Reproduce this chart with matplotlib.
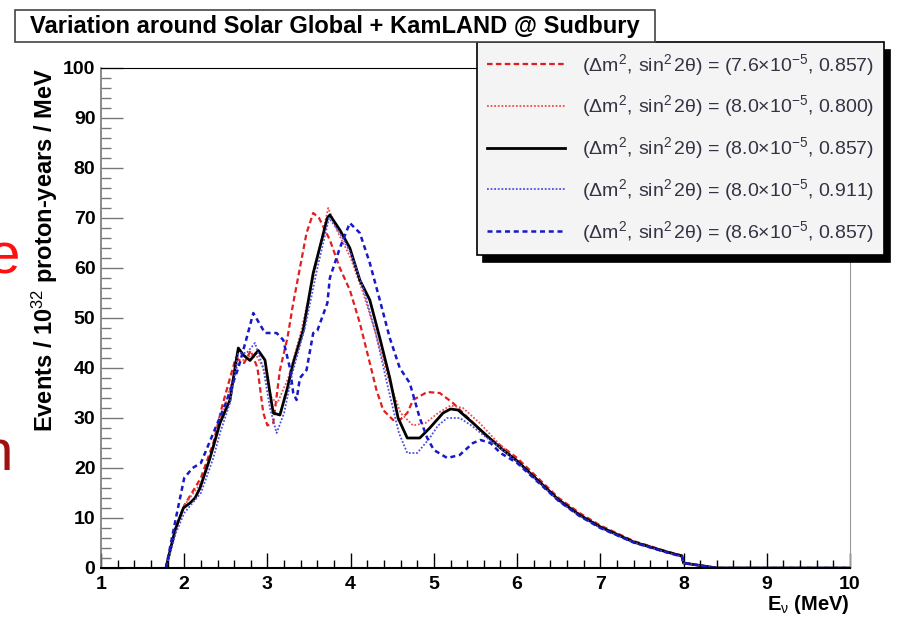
import numpy as np
import matplotlib
matplotlib.use("Agg")
import matplotlib.pyplot as plt
from matplotlib.ticker import MultipleLocator

plt.rcParams['font.family'] = ['Liberation Sans', 'DejaVu Sans']
plt.rcParams['mathtext.fontset'] = 'custom'
plt.rcParams['mathtext.rm'] = 'Liberation Sans'
plt.rcParams['mathtext.it'] = 'Liberation Sans'

# central values (8.0e-5, 0.857)
x_mid = [1.78, 1.89, 1.99, 2.07, 2.13, 2.19, 2.31, 2.43, 2.55, 2.61, 2.65, 2.71, 2.79,
         2.89, 2.97, 3.03, 3.07, 3.15, 3.24, 3.31, 3.43, 3.55, 3.72, 3.75, 3.87, 3.99,
         4.11, 4.23, 4.35, 4.47, 4.57, 4.68, 4.83, 4.95, 5.11, 5.20, 5.29, 5.47, 5.60,
         5.80, 6.00, 6.25, 6.50, 6.75, 7.00, 7.40, 7.80, 7.98, 8.00, 8.20, 8.40, 10.0]
y_mid = [0, 7.6, 12, 13, 14, 16, 22, 29, 33.6, 40, 44, 42.6, 41.5,
         43.5, 41.6, 35, 31, 30.6, 36, 41, 47.6, 59, 70, 70.6, 67.6, 64,
         57.6, 53.6, 46, 38, 30, 26, 26, 28, 31, 31.8, 31.6, 29, 27,
         24, 21.4, 17.5, 13.6, 10.6, 8.2, 5.2, 3.2, 2.4, 1.0, 0.5, 0, 0]

# (7.6e-5, 0.857)
x_r1 = [1.78, 1.90, 2.00, 2.20, 2.35, 2.45, 2.55, 2.62, 2.72, 2.80, 2.88, 2.95, 3.00,
        3.07, 3.15, 3.24, 3.31, 3.39, 3.47, 3.55, 3.62, 3.75, 3.87, 3.99, 4.11, 4.23,
        4.31, 4.39, 4.51, 4.59, 4.68, 4.75, 4.92, 5.07, 5.23, 5.40, 5.64, 5.80, 6.00,
        6.25, 6.50, 6.75, 7.00, 7.40, 7.80, 7.98, 8.00, 8.20, 8.40, 10.0]
y_r1 = [0, 8, 12.5, 18, 25, 32, 38, 42, 41, 43.5, 40, 31, 28.5,
        29, 39.6, 46, 53, 60, 67, 71, 70, 65.6, 60, 55.6, 49, 41,
        35.6, 31.6, 29.6, 29.6, 31, 33.6, 35.2, 35, 33, 30.2, 26.2, 24.5, 22,
        18, 14, 11, 8.5, 5.4, 3.3, 2.5, 1.0, 0.5, 0, 0]

# (8.0e-5, 0.800)
x_r2 = [1.78, 1.90, 2.00, 2.20, 2.35, 2.45, 2.55, 2.65, 2.75, 2.85, 2.95, 3.05, 3.12,
        3.25, 3.40, 3.55, 3.73, 3.85, 4.00, 4.15, 4.30, 4.45, 4.60, 4.75, 4.90, 5.05,
        5.20, 5.35, 5.55, 5.80, 6.00, 6.25, 6.50, 6.75, 7.00, 7.40, 7.80, 7.98, 8.00,
        8.20, 8.40, 10.0]
y_r2 = [0, 8, 12.5, 17, 24, 30, 36, 41, 42, 43, 40, 34, 33,
        38, 47, 58, 72, 67, 62, 55, 47, 38, 31, 28.5, 29, 31,
        32.5, 32, 29, 24.5, 21.6, 17.6, 13.8, 10.8, 8.4, 5.3, 3.3, 2.5, 1.0,
        0.5, 0, 0]

# (8.0e-5, 0.911)
x_b1 = [1.78, 1.90, 2.00, 2.20, 2.35, 2.43, 2.55, 2.65, 2.75, 2.85, 2.95, 3.03, 3.11,
        3.20, 3.30, 3.45, 3.60, 3.74, 3.87, 4.00, 4.15, 4.30, 4.45, 4.58, 4.68, 4.80,
        4.95, 5.05, 5.16, 5.31, 5.45, 5.60, 5.80, 6.00, 6.25, 6.50, 6.75, 7.00, 7.40,
        7.80, 7.98, 8.00, 8.20, 8.40, 10.0]
y_b1 = [0, 7, 11, 15, 22, 27, 33, 43, 43, 45, 40, 32, 27,
        31, 39, 48, 60, 70, 67, 63, 56, 47, 36, 27, 23, 23,
        26, 28.5, 30, 30, 28.5, 26.5, 24, 21.2, 17.3, 13.4, 10.4, 8.0, 5.1,
        3.1, 2.3, 1.0, 0.5, 0, 0]

# (8.6e-5, 0.857)
x_b2 = [1.78, 1.90, 2.00, 2.10, 2.20, 2.35, 2.50, 2.65, 2.75, 2.83, 2.97, 3.11, 3.19,
        3.27, 3.31, 3.35, 3.39, 3.47, 3.55, 3.60, 3.72, 3.75, 3.87, 3.99, 4.11, 4.23,
        4.35, 4.47, 4.59, 4.71, 4.83, 4.92, 5.00, 5.16, 5.31, 5.47, 5.56, 5.68, 5.80,
        6.00, 6.25, 6.50, 6.75, 7.00, 7.40, 7.80, 7.98, 8.00, 8.20, 8.40, 10.0]
y_b2 = [0, 10, 18, 20, 21, 27, 33, 40, 46, 51, 47, 47, 45.6,
        40, 35, 33.6, 38, 39.6, 47, 47.5, 53, 58, 64, 69, 67, 61,
        53.6, 46, 40, 37, 30, 26, 23.6, 22, 22.6, 25, 25.6, 25, 23,
        21, 17.2, 13.4, 10.4, 8.0, 5.1, 3.1, 2.3, 1.0, 0.5, 0, 0]

labels = [r'$(\Delta m^2,\,\sin^2 2\theta)$ = $(7.6{\times}10^{-5}$, 0.857)',
          r'$(\Delta m^2,\,\sin^2 2\theta)$ = $(8.0{\times}10^{-5}$, 0.800)',
          r'$(\Delta m^2,\,\sin^2 2\theta)$ = $(8.0{\times}10^{-5}$, 0.857)',
          r'$(\Delta m^2,\,\sin^2 2\theta)$ = $(8.0{\times}10^{-5}$, 0.911)',
          r'$(\Delta m^2,\,\sin^2 2\theta)$ = $(8.6{\times}10^{-5}$, 0.857)']

fig = plt.figure(figsize=(8.99, 6.18), dpi=100)
ax = fig.add_axes([101 / 899, 50 / 618, 749 / 899, 500 / 618])

l1, = ax.plot(x_r1, y_r1, color='#e02020', lw=1.6, ls=(0, (2.5, 1.5)))
l2, = ax.plot(x_r2, y_r2, color='#f05050', lw=1.3, ls=(0, (1, 1)))
l3, = ax.plot(x_mid, y_mid, color='black', lw=2.0, ls='-')
l4, = ax.plot(x_b1, y_b1, color='#5050e0', lw=1.3, ls=(0, (1, 1)))
l5, = ax.plot(x_b2, y_b2, color='#1818c8', lw=1.8, ls=(0, (2, 1.5)))

ax.set_xlim(1, 10)
ax.set_ylim(0, 100)
ax.xaxis.set_major_locator(MultipleLocator(1))
ax.xaxis.set_minor_locator(MultipleLocator(0.2))
ax.yaxis.set_major_locator(MultipleLocator(10))
ax.yaxis.set_minor_locator(MultipleLocator(2))
ax.tick_params(axis='x', which='major', direction='in', length=11, width=1, pad=6)
ax.tick_params(axis='x', which='minor', direction='in', length=5.5, width=1)
ax.tick_params(axis='y', which='major', direction='in', length=16, width=1,
               color='#777777', pad=4)
ax.tick_params(axis='y', which='minor', direction='in', length=7, width=1,
               color='#777777')
for lab in ax.get_xticklabels() + ax.get_yticklabels():
    lab.set_fontweight('bold')
    lab.set_fontsize(14)
ax.spines['left'].set_color('#777777')
ax.spines['right'].set_color('#999999')
ax.spines['left'].set_linewidth(1.2)
ax.spines['bottom'].set_linewidth(1.5)

ax.set_ylabel(r'Events / 10$^{32}$ proton-years / MeV', fontsize=17,
              fontweight='bold', loc='top', labelpad=2)
ax.set_xlabel(r'E$_{\nu}$ (MeV)', fontsize=14.5, fontweight='bold', loc='right',
              labelpad=0)

leg = ax.legend([l1, l2, l3, l4, l5], labels, loc='upper left',
                bbox_to_anchor=(477 / 899, 1 - 42 / 618), bbox_transform=fig.transFigure,
                frameon=True, fancybox=False, fontsize=14,
                shadow={'color': 'black', 'alpha': 1, 'ox': 4.5, 'oy': -5.5},
                handlelength=4.0, handletextpad=0.9, labelspacing=0.82,
                borderpad=0.5, borderaxespad=0)
leg.get_frame().set_edgecolor('black')
leg.get_frame().set_facecolor('#f4f4f4')
leg.get_frame().set_linewidth(1.2)
for t in leg.get_texts():
    t.set_color('#333344')

# title box
fig.patches.append(plt.Rectangle((15 / 899, 1 - 42 / 618), 640 / 899, 32 / 618,
                                 transform=fig.transFigure, fc='white', ec='#444444',
                                 lw=1.2, zorder=5))
fig.text(335 / 899, 1 - 26 / 618, 'Variation around Solar Global + KamLAND @ Sudbury',
         ha='center', va='center', fontsize=17, fontweight='bold', zorder=6)

fig.text(-12 / 899, 1 - 258 / 618, 'e', color='#ff1010', fontsize=42,
         ha='left', va='center')
fig.text(-20 / 899, 1 - 455 / 618, 'n', color='#a01010', fontsize=42,
         ha='left', va='center')

fig.savefig('out.png', dpi=100)
